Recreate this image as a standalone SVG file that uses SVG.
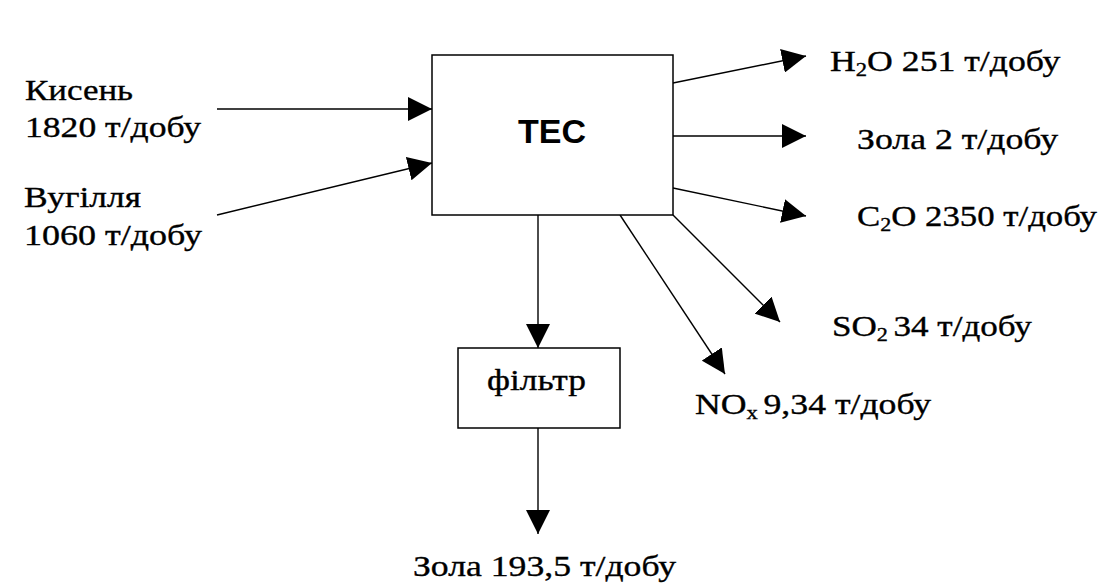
<svg xmlns="http://www.w3.org/2000/svg" width="1103" height="585" viewBox="0 0 1103 585">
<style>
.box{fill:#fff;stroke:#000;stroke-width:1.5}
.ln{stroke:#000;stroke-width:1.4;fill:none;marker-end:url(#ah)}
.t{font-family:'Liberation Serif','DejaVu Serif',serif;font-size:30px;fill:#000;stroke:#000;stroke-width:0.35}
.sub{font-size:19px}
.b{font-family:'Liberation Sans','DejaVu Sans',sans-serif;font-weight:bold;font-size:34px;fill:#000}
</style>
<defs>
<marker id="ah" markerUnits="userSpaceOnUse" markerWidth="25" markerHeight="24" refX="24" refY="12" orient="auto">
<path d="M0,0 L24,12 L0,24 Z" fill="#000"/>
</marker>
</defs>
<rect width="1103" height="585" fill="#fff"/>
<g id="connectors">
<line class="ln" x1="217" y1="109" x2="432" y2="109"/>
<line class="ln" x1="217" y1="215" x2="432" y2="163"/>
<line class="ln" x1="673" y1="83" x2="806" y2="56"/>
<line class="ln" x1="673" y1="136" x2="806" y2="136"/>
<line class="ln" x1="673" y1="188" x2="806" y2="216"/>
<line class="ln" x1="673" y1="215" x2="780" y2="322"/>
<line class="ln" x1="620" y1="215" x2="725" y2="374"/>
<line class="ln" x1="538" y1="215" x2="538" y2="348"/>
<line class="ln" x1="538" y1="428" x2="538" y2="534"/>
</g>
<g id="tec">
<rect class="box" x="432" y="55" width="241" height="160"/>
<text class="b" x="552" y="143" text-anchor="middle">TEC</text>
</g>
<g id="filter">
<rect class="box" x="458" y="348" width="162" height="80"/>
<text class="t" x="487" y="390" textLength="99" lengthAdjust="spacingAndGlyphs">фільтр</text>
</g>
<g id="input-oxygen">
<text class="t" x="25" y="100" textLength="108" lengthAdjust="spacingAndGlyphs">Кисень</text>
<text class="t" x="25" y="137" textLength="176" lengthAdjust="spacingAndGlyphs">1820 т/добу</text>
</g>
<g id="input-coal">
<text class="t" x="24" y="207" textLength="117" lengthAdjust="spacingAndGlyphs">Вугілля</text>
<text class="t" x="24" y="245" textLength="178" lengthAdjust="spacingAndGlyphs">1060 т/добу</text>
</g>
<g id="out-h2o">
<text class="t" transform="matrix(1.19,0,0,1,830,71)">H<tspan class="sub" dy="5">2</tspan><tspan dy="-5">O 251 т/добу</tspan></text>
</g>
<g id="out-ash">
<text class="t" x="857" y="149" textLength="201" lengthAdjust="spacingAndGlyphs">Зола 2 т/добу</text>
</g>
<g id="out-c2o">
<text class="t" transform="matrix(1.16,0,0,1,857,226)">C<tspan class="sub" dy="5">2</tspan><tspan dy="-5">O 2350 т/добу</tspan></text>
</g>
<g id="out-so2">
<text class="t" transform="matrix(1.17,0,0,1,832,336)">SO<tspan class="sub" dy="5">2 </tspan><tspan dy="-5">34 т/добу</tspan></text>
</g>
<g id="out-nox">
<text class="t" transform="matrix(1.19,0,0,1,695,414)">NO<tspan class="sub" dy="5">x </tspan><tspan dy="-5">9,34 т/добу</tspan></text>
</g>
<g id="out-ash-filter">
<text class="t" x="413" y="576" textLength="263" lengthAdjust="spacingAndGlyphs">Зола 193,5 т/добу</text>
</g>
</svg>
